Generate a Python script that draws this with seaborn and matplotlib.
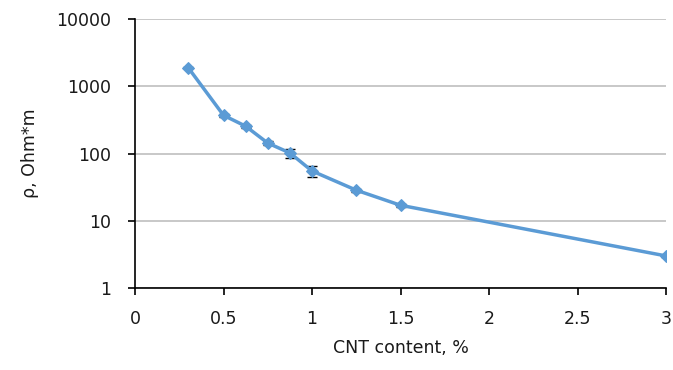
import matplotlib
matplotlib.use("Agg")
import matplotlib.pyplot as plt
import seaborn as sns
import pandas as pd

# data
cnt_content = [0.3, 0.5, 0.625, 0.75, 0.875, 1.0, 1.25, 1.5, 3.0]
resistivity = [1900, 370, 255, 143, 102, 55, 28.5, 17, 3.0]
resist_err = [40, 18, 15, 8, 16, 11, 1.5, 0.8, 0.1]

x_ticks = [0, 0.5, 1, 1.5, 2, 2.5, 3]
x_tick_labels = ["0", "0.5", "1", "1.5", "2", "2.5", "3"]
y_ticks = [1, 10, 100, 1000, 10000]
y_tick_labels = ["1", "10", "100", "1000", "10000"]

df = pd.DataFrame({"cnt": cnt_content, "rho": resistivity, "err": resist_err})

sns.set_style("white")
plt.rcParams["font.family"] = ["DejaVu Sans"]

fig = plt.figure(figsize=(6.73, 3.70), dpi=100)
ax = fig.add_axes([0.2006, 0.2216, 0.789, 0.727])

line_color = "#5B9BD5"
ax.errorbar(df["cnt"], df["rho"], yerr=df["err"], fmt="none", ecolor="black",
            elinewidth=1, capsize=3.5, capthick=1, zorder=3)
sns.lineplot(data=df, x="cnt", y="rho", ax=ax, color=line_color, linewidth=2.5,
             marker="D", markersize=6.5, markeredgecolor=line_color, zorder=4)

ax.set_yscale("log")
ax.set_xlim(0, 3)
ax.set_ylim(1, 10000)
ax.set_xticks(x_ticks)
ax.set_xticklabels(x_tick_labels)
ax.set_yticks(y_ticks)
ax.set_yticklabels(y_tick_labels)
ax.minorticks_off()

ax.yaxis.grid(True, color="#BFBFBF", linewidth=1.2)
ax.set_axisbelow(True)
for s in ["top", "right"]:
    ax.spines[s].set_visible(False)
for s in ["left", "bottom"]:
    ax.spines[s].set_color("black")
    ax.spines[s].set_linewidth(1.2)

ax.tick_params(axis="both", direction="out", length=5, width=1.2, color="black",
               labelsize=12.5, labelcolor="#1a1a1a", bottom=True, left=True)
ax.tick_params(axis="x", pad=11)
ax.tick_params(axis="y", pad=12.5)
ax.set_xlabel("CNT content, %", fontsize=12.5, labelpad=8, color="#1a1a1a")
ax.set_ylabel("ρ, Ohm*m", fontsize=12.5, labelpad=12, color="#1a1a1a")

fig.savefig("out.png", dpi=100)
